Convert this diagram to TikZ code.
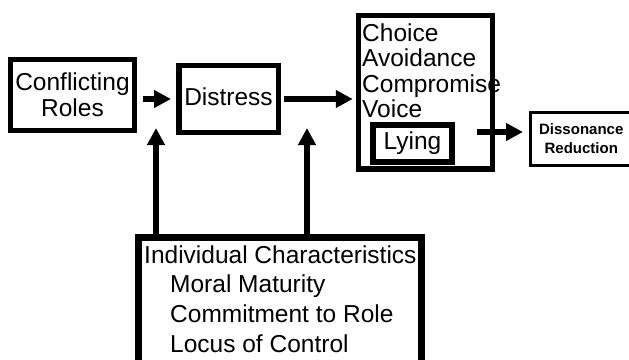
\documentclass[tikz,border=0pt]{standalone}
\usepackage{fontspec}
\setmainfont{Liberation Sans}
\usetikzlibrary{arrows.meta}

\begin{document}
\begin{tikzpicture}[x=1pt, y=-1pt, >={Triangle[length=17pt, width=17pt]},
	box/.style={draw, line width=5.5pt, inner sep=0pt, align=center, font=\fontsize{24.5}{26}\selectfont},
	txt/.style={inner sep=0pt, anchor=base west, font=\fontsize{24.5}{26}\selectfont},
	flow/.style={->, line width=6.5pt}]
	\useasboundingbox (0,0) rectangle (629,359);
	\clip (0,0) rectangle (629,359);
	% boxes
	\node[box, minimum width=124pt, minimum height=71pt] (roles) at (72.5,95) {Conflicting\\Roles};
	\node[box, minimum width=99.5pt, minimum height=67pt, text depth=5pt] (distress) at (228.5,99) {Distress};
	\node[box, minimum width=134pt, minimum height=153.5pt] (choice) at (425.5,92.25) {};
	\node[box, line width=6pt, minimum width=79pt, minimum height=37pt] (lying) at (412.5,143.5) {Lying};
	\node[box, line width=3pt, minimum width=101.5pt, minimum height=53pt, font=\fontsize{15}{19}\selectfont\bfseries] (dis) at (581.25,139) {Dissonance\\Reduction};
	\node[box, line width=7pt, minimum width=283pt, minimum height=142.5pt] (ind) at (280,308.75) {};
	% texts in the open boxes
	\foreach \w [count=\i from 0] in {Choice, Avoidance, Compromise, Voice}
		\node[txt] (opt\i) at (362,41+25.5*\i) {\w};
	\node[txt] (indtitle) at (144,263) {Individual Characteristics};
	\foreach \w [count=\i] in {Moral Maturity, Commitment to Role, Locus of Control}
		\node[txt] (trait\i) at (170,263+29.8*\i) {\w};
	% arrows
	\coordinate (up1) at (156,128);
	\coordinate (up2) at (307,128);
	\coordinate (disin) at ([yshift=7pt]dis.west);
	\draw[flow, shorten <=6pt, shorten >=5pt] (roles.east |- distress) -- (distress.west);
	\draw[flow, shorten <=3pt, shorten >=3pt] (distress.east) -- (distress.east -| choice.west);
	\draw[flow, shorten <=22pt, shorten >=6pt] (lying.east |- disin) -- (disin);
	\draw[flow] (ind.north -| up1) -- (up1);
	\draw[flow] (ind.north -| up2) -- (up2);
\end{tikzpicture}
\end{document}
